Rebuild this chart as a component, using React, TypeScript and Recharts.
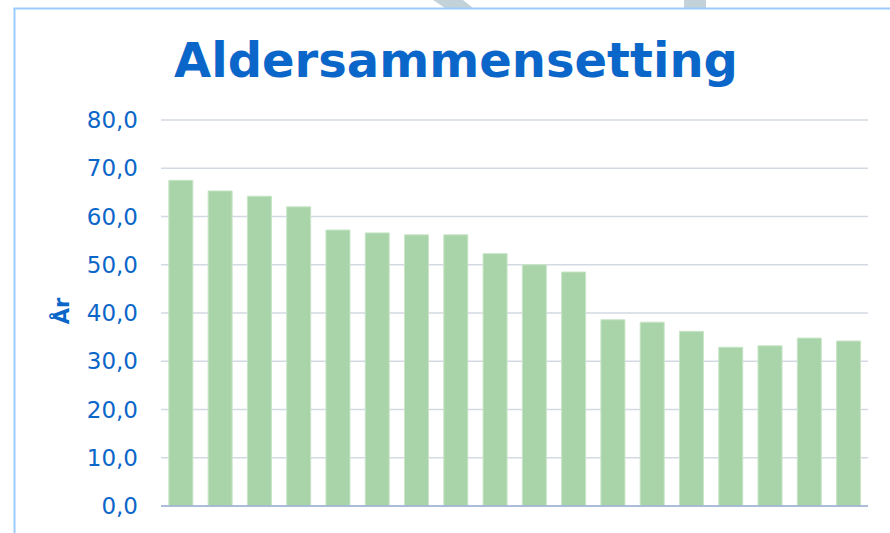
import React from 'react';
import { BarChart, Bar, XAxis, YAxis, CartesianGrid } from 'recharts';

const categories = ['1', '2', '3', '4', '5', '6', '7', '8', '9', '10', '11', '12', '13', '14', '15', '16', '17', '18'];
const ages = [67.5, 65.3, 64.2, 62.0, 57.2, 56.6, 56.2, 56.2, 52.3, 50.0, 48.5, 38.6, 38.1, 36.2, 32.9, 33.2, 34.8, 34.2];
const yTicks = [0, 10, 20, 30, 40, 50, 60, 70, 80];

const data = categories.map((c, i) => ({ name: c, value: ages[i] }));

const BLUE = '#0b66c9';

export default function App() {
  return (
    <div style={{ position: 'absolute', left: 0, top: 0, width: 890, height: 533, background: '#fff' }}>
      <BarChart
        width={890}
        height={533}
        data={data}
        margin={{ top: 120, right: 22, bottom: 26, left: 0 }}
        barCategoryGap="20%"
      >
        <CartesianGrid vertical={false} stroke="#d3d9e2" strokeWidth={1.5} />
        <XAxis dataKey="name" tick={false} tickLine={false} height={1} axisLine={{ stroke: '#9bb0d6', strokeWidth: 1.5 }} />
        <YAxis
          domain={[0, 80]}
          ticks={yTicks}
          width={161}
          axisLine={false}
          tickLine={false}
          tickSize={0}
          tickMargin={23}
          interval={0}
          tickFormatter={(v: number) => v.toFixed(1).replace('.', ',')}
          tick={{ fill: BLUE, fontSize: 23, fontFamily: 'DejaVu Sans' }}
        />
        <Bar dataKey="value" fill="#a9d4a9" stroke="#c8e5c7" strokeWidth={1} isAnimationActive={false} />
      </BarChart>
      <svg width={890} height={533} style={{ position: 'absolute', left: 0, top: 0, pointerEvents: 'none' }}>
        <polygon points="433,0 463,0 473,8 445,8" fill="#c3d2d9" />
        <rect x={684} y={0} width={22} height={8} fill="#c3d2d9" />
        <line x1={13.5} y1={8.5} x2={890} y2={8.5} stroke="#9ccbff" strokeWidth={2} />
        <line x1={14.5} y1={8} x2={14.5} y2={533} stroke="#9ccbff" strokeWidth={2} />
        <text x={456} y={77} textAnchor="middle" fontFamily="DejaVu Sans" fontWeight="bold" fontSize={48} fill={BLUE}>
          Aldersammensetting
        </text>
        <text
          x={0}
          y={0}
          transform="translate(69,311) rotate(-90)"
          textAnchor="middle"
          fontFamily="DejaVu Sans"
          fontWeight="bold"
          fontSize={21}
          fill={BLUE}
        >
          År
        </text>
      </svg>
    </div>
  );
}
